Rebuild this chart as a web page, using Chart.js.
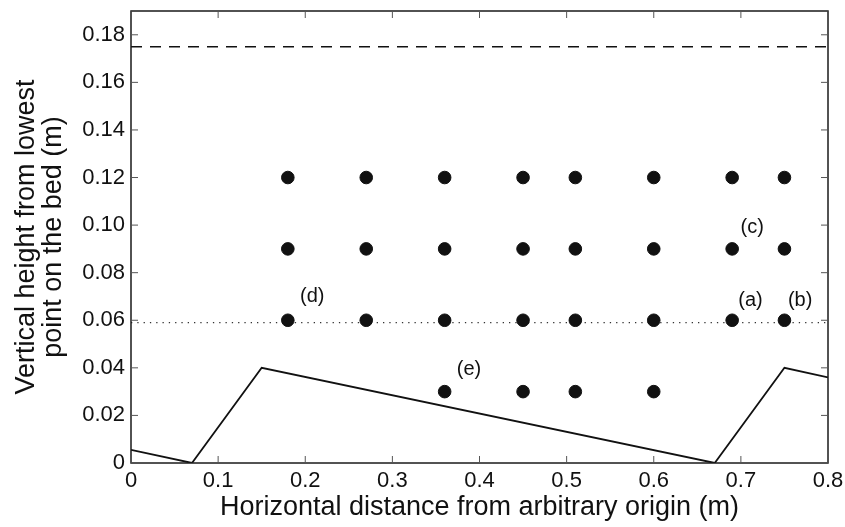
<!DOCTYPE html>
<html lang="en">
<head>
    <meta charset="UTF-8">
    <title>Measurement points above the bed</title>
    <script src="https://cdn.jsdelivr.net/npm/chart.js"></script>
    <style>
        html, body { margin: 0; padding: 0; background: #fff; }
        #wrap { width: 845px; height: 527px; }
    </style>
</head>
<body>
<div id="wrap"><canvas id="myChart"></canvas></div>
<script>
    // measurement points (m)
    const row012X = [0.18, 0.27, 0.36, 0.45, 0.51, 0.60, 0.69, 0.75];
    const row009X = [0.18, 0.27, 0.36, 0.45, 0.51, 0.60, 0.69, 0.75];
    const row006X = [0.18, 0.27, 0.36, 0.45, 0.51, 0.60, 0.69, 0.75];
    const row003X = [0.36, 0.45, 0.51, 0.60];
    const rowHeights = [0.12, 0.09, 0.06, 0.03];

    // bed profile
    const bedX = [0, 0.07, 0.15, 0.67, 0.75, 0.8];
    const bedY = [0.0055, 0, 0.04, 0, 0.04, 0.036];

    const surfaceLevel = 0.175;   // dashed
    const refLevel = 0.059;       // dotted

    const noteText = ['(a)', '(b)', '(c)', '(d)', '(e)'];
    const noteX = [0.711, 0.768, 0.713, 0.208, 0.388];
    const noteY = [0.0685, 0.0685, 0.0988, 0.0698, 0.0395];

    const xTicks = [0, 0.1, 0.2, 0.3, 0.4, 0.5, 0.6, 0.7, 0.8];
    const yTicks = [0, 0.02, 0.04, 0.06, 0.08, 0.1, 0.12, 0.14, 0.16, 0.18];

    const pts = [];
    [row012X, row009X, row006X, row003X].forEach((xs, i) => {
        xs.forEach(x => pts.push({ x: x, y: rowHeights[i] }));
    });

    const font = "'Liberation Sans', Arial, sans-serif";

    const framePlugin = {
        id: 'frame',
        afterDraw(chart) {
            const { ctx, chartArea: a, scales } = chart;
            ctx.save();
            ctx.strokeStyle = '#1a1a1a';
            ctx.lineWidth = 1.5;
            ctx.strokeRect(a.left, a.top, a.right - a.left, a.bottom - a.top);
            ctx.lineWidth = 1;
            ctx.strokeStyle = '#555';
            xTicks.forEach(v => {
                const px = scales.x.getPixelForValue(v);
                ctx.beginPath();
                ctx.moveTo(px, a.bottom); ctx.lineTo(px, a.bottom - 7);
                ctx.moveTo(px, a.top); ctx.lineTo(px, a.top + 7);
                ctx.stroke();
            });
            yTicks.forEach(v => {
                const py = scales.y.getPixelForValue(v);
                ctx.beginPath();
                ctx.moveTo(a.left, py); ctx.lineTo(a.left + 7, py);
                ctx.moveTo(a.right, py); ctx.lineTo(a.right - 7, py);
                ctx.stroke();
            });
            ctx.fillStyle = '#111';
            ctx.font = '20px ' + font;
            ctx.textAlign = 'center';
            ctx.textBaseline = 'middle';
            noteText.forEach((t, i) => {
                ctx.fillText(t, scales.x.getPixelForValue(noteX[i]), scales.y.getPixelForValue(noteY[i]));
            });
            ctx.restore();
        }
    };

    const ctx = document.getElementById('myChart').getContext('2d');
    new Chart(ctx, {
        type: 'scatter',
        data: {
            datasets: [
                {
                    data: pts,
                    backgroundColor: '#111',
                    borderColor: '#111',
                    pointRadius: 6.3,
                    showLine: false
                },
                {
                    data: bedX.map((x, i) => ({ x: x, y: bedY[i] })),
                    showLine: true,
                    borderColor: '#111',
                    borderWidth: 1.8,
                    pointRadius: 0,
                    tension: 0
                },
                {
                    data: [{ x: 0, y: surfaceLevel }, { x: 0.8, y: surfaceLevel }],
                    showLine: true,
                    borderColor: '#111',
                    borderWidth: 1.6,
                    borderDash: [11, 8],
                    pointRadius: 0
                },
                {
                    data: [{ x: 0, y: refLevel }, { x: 0.8, y: refLevel }],
                    showLine: true,
                    borderColor: '#333',
                    borderWidth: 1.3,
                    borderDash: [1.3, 5],
                    pointRadius: 0
                }
            ]
        },
        options: {
            responsive: true,
            maintainAspectRatio: false,
            animation: false,
            layout: { padding: { top: 11, right: 17, left: 0, bottom: 0 } },
            plugins: { legend: { display: false }, tooltip: { enabled: false } },
            scales: {
                x: {
                    type: 'linear',
                    min: 0, max: 0.8,
                    afterBuildTicks(s) { s.ticks = xTicks.map(v => ({ value: v })); },
                    afterFit(s) { s.height = 64; s.paddingLeft = 0; s.paddingRight = 0; },
                    grid: { display: false, drawTicks: false },
                    border: { display: false },
                    ticks: {
                        color: '#111',
                        font: { family: font, size: 22 },
                        padding: 5,
                        maxRotation: 0,
                        callback: v => String(Math.round(v * 10) / 10)
                    },
                    title: {
                        display: true,
                        text: 'Horizontal distance from arbitrary origin (m)',
                        color: '#111',
                        font: { family: font, size: 27, lineHeight: 1.0 },
                        padding: { top: 0, bottom: 6 }
                    }
                },
                y: {
                    type: 'linear',
                    min: 0, max: 0.19,
                    afterBuildTicks(s) { s.ticks = yTicks.map(v => ({ value: v })); },
                    afterFit(s) { s.width = 131; s.paddingTop = 0; s.paddingBottom = 0; },
                    grid: { display: false, drawTicks: false },
                    border: { display: false },
                    ticks: {
                        color: '#111',
                        font: { family: font, size: 22 },
                        padding: 6,
                        callback: v => (v === 0 ? '0' : v.toFixed(2))
                    },
                    title: {
                        display: true,
                        text: ['Vertical height from lowest', 'point on the bed (m)'],
                        color: '#111',
                        font: { family: font, size: 27, lineHeight: 1.0 },
                        padding: { top: 13, bottom: 0 }
                    }
                }
            }
        },
        plugins: [framePlugin]
    });
</script>
</body>
</html>
